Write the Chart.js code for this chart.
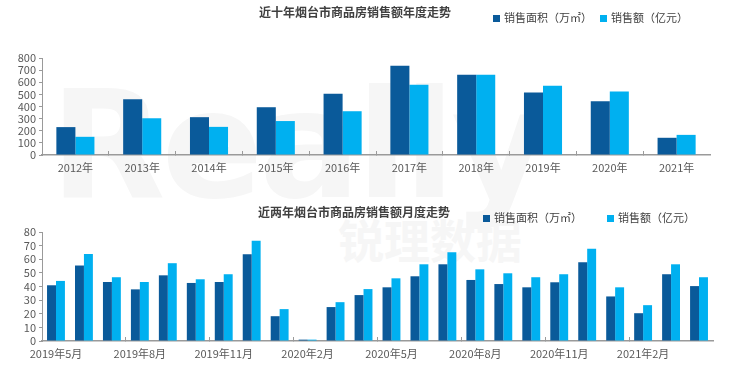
<!DOCTYPE html>
<html>
<head>
<meta charset="utf-8">
<script src="https://cdn.jsdelivr.net/npm/chart.js@4.4.0/dist/chart.umd.min.js"></script>
<style>
  body { margin: 0; background: #fff; font-family: "Noto Sans CJK SC", sans-serif; }
  #wrap { position: relative; width: 740px; height: 390px; overflow: hidden; }
  .box { position: absolute; left: 0; width: 740px; height: 195px; }
  .title { position: absolute; font-size: 12px; font-weight: bold; color: #404040; white-space: nowrap; }
  .legend { position: absolute; font-size: 11px; color: #404040; white-space: nowrap; }
  .legend span.sq { display: inline-block; width: 7px; height: 7px; margin-right: 4px; vertical-align: 0px; }
  .wm { position: absolute; color: #f6f6f6; font-weight: bold; white-space: nowrap; font-family: "DejaVu Sans", sans-serif; }
</style>
</head>
<body>
<div id="wrap">
  <div class="wm" style="left:50px;top:58px;font-size:150px;letter-spacing:-4px;">Really</div>
  <div class="wm" style="left:338px;top:205px;font-size:46px;font-family:'Noto Sans CJK SC';">锐理数据</div>

  <div class="box" style="top:0">
    <canvas id="yearChart" width="740" height="195"></canvas>
  </div>
  <div class="box" style="top:195px">
    <canvas id="monthChart" width="740" height="195"></canvas>
  </div>

  <div class="title" style="left:259px;top:3px;">近十年烟台市商品房销售额年度走势</div>
  <div class="legend" style="left:493px;top:9px;"><span class="sq" style="background:#0a5a9a"></span>销售面积（万㎡）</div>
  <div class="legend" style="left:600px;top:9px;"><span class="sq" style="background:#00b0f0"></span>销售额（亿元）</div>

  <div class="title" style="left:258px;top:203px;">近两年烟台市商品房销售额月度走势</div>
  <div class="legend" style="left:483px;top:209px;"><span class="sq" style="background:#0a5a9a"></span>销售面积（万㎡）</div>
  <div class="legend" style="left:607px;top:209px;"><span class="sq" style="background:#00b0f0"></span>销售额（亿元）</div>
</div>

<script>
// annual data
var years = ['2012年', '2013年', '2014年', '2015年', '2016年', '2017年', '2018年', '2019年', '2020年', '2021年'];
var yearArea = [230, 460, 312, 394, 505, 736, 662, 515, 444, 142];
var yearAmount = [150, 303, 232, 280, 361, 579, 662, 571, 524, 166];

// monthly data, 2019-05 .. 2021-04
var months = ['2019年5月', '2019年6月', '2019年7月', '2019年8月', '2019年9月', '2019年10月',
    '2019年11月', '2019年12月', '2020年1月', '2020年2月', '2020年3月', '2020年4月',
    '2020年5月', '2020年6月', '2020年7月', '2020年8月', '2020年9月', '2020年10月',
    '2020年11月', '2020年12月', '2021年1月', '2021年2月', '2021年3月', '2021年4月'];
var monthArea = [40.9, 55.4, 43.3, 37.9, 48.2, 42.6, 43.3, 63.7, 18.2, 1.0, 24.9, 33.7,
    39.4, 47.5, 56.3, 44.8, 41.8, 39.4, 43.1, 57.8, 32.7, 20.4, 49.0, 40.3];
var monthAmount = [44.1, 63.8, 46.8, 43.3, 57.1, 45.3, 49.0, 73.6, 23.4, 1.0, 28.5, 38.1,
    46.0, 56.3, 65.2, 52.6, 49.7, 46.8, 49.0, 67.7, 39.4, 26.3, 56.3, 46.8];

var darkBlue = '#0a5a9a';
var lightBlue = '#00b0f0';
var tickFont = { family: 'Noto Sans CJK SC', size: 11 };

function makeChart(id, labels, area, amount, opts) {
    var ctx = document.getElementById(id).getContext('2d');
    return new Chart(ctx, {
        type: 'bar',
        data: {
            labels: labels,
            datasets: [
                { label: '销售面积（万㎡）', data: area, backgroundColor: darkBlue,
                  categoryPercentage: opts.catPct, barPercentage: 1.0 },
                { label: '销售额（亿元）', data: amount, backgroundColor: lightBlue,
                  categoryPercentage: opts.catPct, barPercentage: 1.0 }
            ]
        },
        options: {
            responsive: false,
            animation: false,
            layout: { padding: { top: opts.top, right: opts.right, left: 0, bottom: 0 } },
            plugins: { legend: { display: false }, tooltip: { enabled: false } },
            scales: {
                x: {
                    grid: {
                        drawOnChartArea: false,
                        tickLength: -4,
                        color: function(c) {
                            if (c.index === 0) return 'rgba(0,0,0,0)';
                            return c.index % opts.every === 0 ? '#9a9a9a' : 'rgba(0,0,0,0)';
                        }
                    },
                    border: { color: '#9a9a9a', width: 1.5 },
                    ticks: {
                        font: tickFont, color: '#595959', padding: 10,
                        autoSkip: false, maxRotation: 0,
                        callback: function(v, i) { return i % opts.every === 0 ? labels[i] : ''; }
                    },
                    afterFit: function(s) { s.height = opts.xh; }
                },
                y: {
                    min: 0, max: opts.max,
                    grid: { drawOnChartArea: false, tickLength: 3, color: '#9a9a9a' },
                    border: { color: '#9a9a9a', width: 1 },
                    ticks: { stepSize: opts.step, autoSkip: false, font: tickFont, color: '#595959', padding: 3 },
                    afterFit: function(s) { s.width = 42; }
                }
            }
        }
    });
}

var yearChart = makeChart('yearChart', years, yearArea, yearAmount,
    { catPct: 0.57, top: 58, right: 30, xh: 40, max: 800, step: 100, every: 1 });
var monthChart = makeChart('monthChart', months, monthArea, monthAmount,
    { catPct: 0.64, top: 37, right: 27, xh: 49, max: 80, step: 10, every: 3 });
</script>
</body>
</html>
